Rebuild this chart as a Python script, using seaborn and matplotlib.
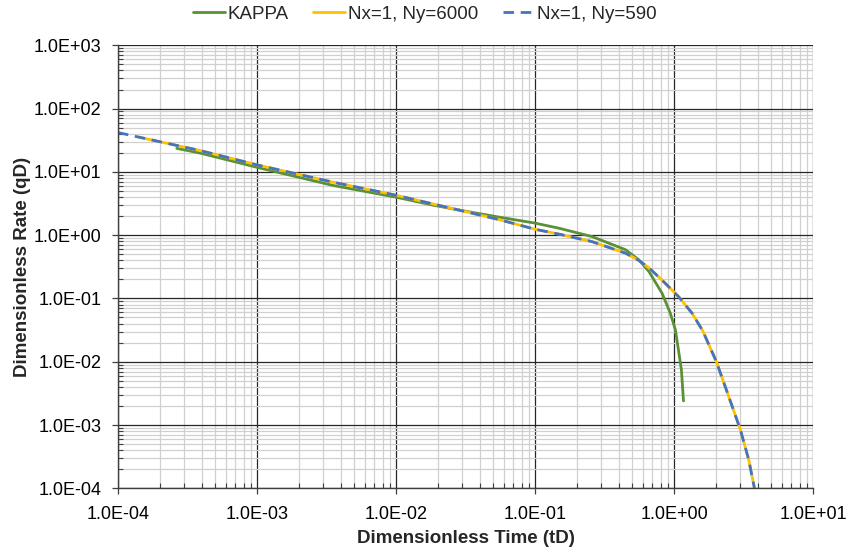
import numpy as np
import pandas as pd
import matplotlib
matplotlib.use("Agg")
import matplotlib.pyplot as plt
import matplotlib.ticker as mticker
import seaborn as sns

# ---- data ----
kappa_t = [2.65e-4, 3.9e-4, 1.0e-3, 3.55e-3, 1.0e-2, 1.86e-2, 2.82e-2, 5.57e-2, 0.1,
           0.148, 0.257, 0.447, 0.557, 0.66, 0.82, 0.94, 1.023, 1.076, 1.13, 1.17]
kappa_q = [23.5, 19.8, 11.8, 6.08, 3.98, 2.97, 2.5, 1.92, 1.55,
           1.29, 0.95, 0.59, 0.41, 0.266, 0.121, 0.0586, 0.0319, 0.0154, 0.00745, 0.0024]

ny6000_t = [1.4e-4, 3.9e-4, 1.0e-3, 3.55e-3, 1.0e-2, 2.82e-2, 5.57e-2, 0.1, 0.148,
            0.257, 0.447, 0.557, 0.66, 0.82, 1.081, 1.347, 1.609, 2.018, 2.475,
            3.004, 3.45, 3.79]
ny6000_q = [35.5, 21.7, 12.9, 6.85, 4.27, 2.5, 1.75, 1.24, 1.04,
            0.79, 0.52, 0.40, 0.304, 0.195, 0.106, 0.0586, 0.0308, 0.0100, 0.00282,
            8.4e-4, 2.8e-4, 1.0e-4]

ny590_t = [1.0e-4, 3.9e-4, 1.0e-3, 3.55e-3, 1.0e-2, 2.82e-2, 5.57e-2, 0.1, 0.148,
           0.257, 0.447, 0.557, 0.66, 0.82, 1.081, 1.347, 1.609, 2.018, 2.475,
           3.004, 3.45, 3.79]
ny590_q = [41.8, 21.7, 12.9, 6.85, 4.27, 2.5, 1.75, 1.24, 1.04,
           0.79, 0.52, 0.40, 0.304, 0.195, 0.106, 0.0586, 0.0308, 0.0100, 0.00282,
           8.4e-4, 2.8e-4, 1.0e-4]

x_ticks = [1e-4, 1e-3, 1e-2, 1e-1, 1e0, 1e1]
y_ticks = [1e-4, 1e-3, 1e-2, 1e-1, 1e0, 1e1, 1e2, 1e3]

series_names = ["KAPPA", "Nx=1, Ny=6000", "Nx=1, Ny=590"]
colors = ["#5B9136", "#FFC000", "#4472C4"]

df = pd.concat([
    pd.DataFrame({"t": kappa_t, "q": kappa_q, "series": series_names[0]}),
    pd.DataFrame({"t": ny6000_t, "q": ny6000_q, "series": series_names[1]}),
    pd.DataFrame({"t": ny590_t, "q": ny590_q, "series": series_names[2]}),
], ignore_index=True)

sns.set_theme(style="white")
plt.rcParams["font.family"] = ["Liberation Sans", "DejaVu Sans"]

fig = plt.figure(figsize=(8.5, 5.51), dpi=100)
ax = fig.add_axes([0.1388, 0.1138, 0.8177, 0.804])
ax.set_xscale("log")
ax.set_yscale("log")

for name, col in zip(series_names, colors):
    sub = df[df["series"] == name]
    kw = dict(lw=2.0)
    if name == "Nx=1, Ny=590":
        kw.update(dashes=(3.8, 2.4))
    sns.lineplot(data=sub, x="t", y="q", ax=ax, color=col, sort=False,
                 estimator=None, label=name, legend=False, **kw)

ax.set_xlim(x_ticks[0], x_ticks[-1])
ax.set_ylim(y_ticks[0], y_ticks[-1])

ax.xaxis.set_major_locator(mticker.FixedLocator(x_ticks))
ax.yaxis.set_major_locator(mticker.FixedLocator(y_ticks))
x_minor = [d * s for d in x_ticks[:-1] for s in range(2, 10)]
y_minor = [d * s for d in y_ticks[:-1] for s in range(2, 10)]
ax.xaxis.set_minor_locator(mticker.FixedLocator(x_minor))
ax.yaxis.set_minor_locator(mticker.FixedLocator(y_minor))
fmt = mticker.FuncFormatter(lambda v, p: f"{v:.1E}")
ax.xaxis.set_major_formatter(fmt)
ax.yaxis.set_major_formatter(fmt)
ax.xaxis.set_minor_formatter(mticker.NullFormatter())
ax.yaxis.set_minor_formatter(mticker.NullFormatter())

ax.grid(which="major", color="#262626", lw=0.9)
ax.grid(which="minor", color="#d0d0d0", lw=0.9)
ax.set_axisbelow(True)

for s in ["top", "right"]:
    ax.spines[s].set_visible(False)
for s in ["left", "bottom"]:
    ax.spines[s].set_color("#404040")
    ax.spines[s].set_linewidth(1.0)

ax.tick_params(which="major", direction="out", length=4, width=0.9, color="#404040",
               labelsize=13, labelcolor="#000000", left=True, bottom=True)
ax.tick_params(axis="x", which="major", pad=9)
ax.tick_params(axis="y", which="major", pad=8)
ax.tick_params(which="minor", direction="in", length=3.5, width=0.8, color="#404040",
               left=True, bottom=True, labelleft=False, labelbottom=False)

ax.set_xlabel("Dimensionless Time (tD)", fontsize=13.5, fontweight="bold", labelpad=5)
ax.set_ylabel("Dimensionless Rate (qD)", fontsize=13.5, fontweight="bold", labelpad=2)

handles, labels = ax.get_legend_handles_labels()
fig.legend(handles, labels, loc="center", bbox_to_anchor=(0.500, 0.974), ncol=3,
           frameon=False, fontsize=13.5, handlelength=1.7, handletextpad=0.15,
           columnspacing=1.3, borderaxespad=0.0)

fig.savefig("out.png", dpi=100)
